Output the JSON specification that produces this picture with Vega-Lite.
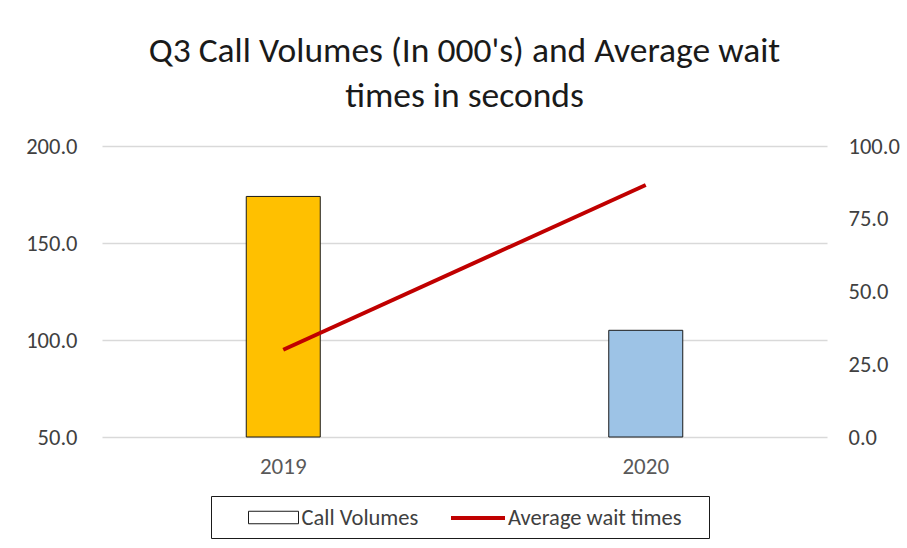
{
  "$schema": "https://vega.github.io/schema/vega-lite/v6.json",
  "width": 725,
  "height": 291,
  "autosize": {"type": "none"},
  "padding": {"left": 102, "top": 146, "right": 80, "bottom": 111},
  "background": "white",
  "config": {"view": {"stroke": null}},
  "title": {
    "text": ["Q3 Call Volumes (In 000's) and Average wait", "times in seconds"],
    "font": "Carlito, Roboto, sans-serif",
    "fontSize": 35.5,
    "fontWeight": "normal",
    "color": "#1a1a1a",
    "lineHeight": 45,
    "anchor": "middle",
    "offset": 21
  },
  "data": {
    "values": [
      {"year": "2019", "calls": 174, "wait": 30},
      {"year": "2020", "calls": 105, "wait": 86.6}
    ]
  },
  "encoding": {
    "x": {
      "field": "year",
      "type": "nominal",
      "scale": {"paddingInner": 0, "paddingOuter": 0},
      "axis": {
        "title": null,
        "labelAngle": 0,
        "domain": false,
        "ticks": false,
        "labelPadding": 18,
        "labelFont": "Carlito, Roboto, sans-serif",
        "labelFontSize": 23,
        "labelColor": "#595959"
      }
    }
  },
  "layer": [
    {
      "mark": {"type": "bar", "size": 74, "strokeWidth": 1},
      "encoding": {
        "y": {
          "field": "calls",
          "type": "quantitative",
          "scale": {"domain": [50, 200], "zero": false, "nice": false},
          "axis": {
            "title": null,
            "values": [50, 100, 150, 200],
            "format": ".1f",
            "domain": false,
            "ticks": false,
            "labelPadding": 25,
            "labelFont": "Carlito, Roboto, sans-serif",
            "labelFontSize": 22.5,
            "labelColor": "#404040",
            "gridColor": "#D9D9D9",
            "gridWidth": 1.5
          }
        },
        "y2": {"datum": 50},
        "fill": {
          "field": "year",
          "type": "nominal",
          "scale": {"domain": ["2019", "2020"], "range": ["#FFC000", "#9DC3E6"]},
          "legend": null
        },
        "stroke": {
          "datum": "Call Volumes",
          "scale": {"domain": ["Call Volumes"], "range": ["#1a1a1a"]},
          "legend": {
            "orient": "none",
            "legendX": 109,
            "legendY": 350,
            "title": " ",
            "titleOrient": "right",
            "titlePadding": 282,
            "titleFontSize": 10,
            "strokeColor": "#1a1a1a",
            "padding": 8.5,
            "symbolSize": 625,
            "symbolType": "M-2,-0.5H2V0.5H-2Z",
            "symbolStrokeWidth": 1,
            "symbolFillColor": "white",
            "symbolOffset": 41,
            "labelOffset": 15,
            "labelLimit": 400,
            "labelFont": "Carlito, Roboto, sans-serif",
            "labelFontSize": 22.5,
            "labelColor": "#404040"
          }
        }
      }
    },
    {
      "mark": {"type": "line", "strokeWidth": 4},
      "encoding": {
        "y": {
          "field": "wait",
          "type": "quantitative",
          "scale": {"domain": [0, 100], "nice": false},
          "axis": {
            "orient": "right",
            "title": null,
            "values": [0, 25, 50, 75, 100],
            "format": ".1f",
            "domain": false,
            "ticks": false,
            "grid": false,
            "labelPadding": 21,
            "labelFont": "Carlito, Roboto, sans-serif",
            "labelFontSize": 22.5,
            "labelColor": "#404040"
          }
        },
        "stroke": {
          "datum": "Average wait times",
          "scale": {"domain": ["Average wait times"], "range": ["#C00000"]},
          "legend": {
            "orient": "none",
            "legendX": 360.5,
            "legendY": 356.5,
            "title": null,
            "padding": 0,
            "symbolSize": 729,
            "symbolType": "M-2,0H2",
            "symbolStrokeWidth": 4,
            "symbolFillColor": "transparent",
            "symbolOffset": 0,
            "labelOffset": 14.5,
            "labelLimit": 400,
            "labelFont": "Carlito, Roboto, sans-serif",
            "labelFontSize": 22.5,
            "labelColor": "#404040"
          }
        }
      }
    }
  ],
  "resolve": {
    "scale": {"y": "independent", "stroke": "independent"},
    "legend": {"stroke": "independent"}
  }
}
